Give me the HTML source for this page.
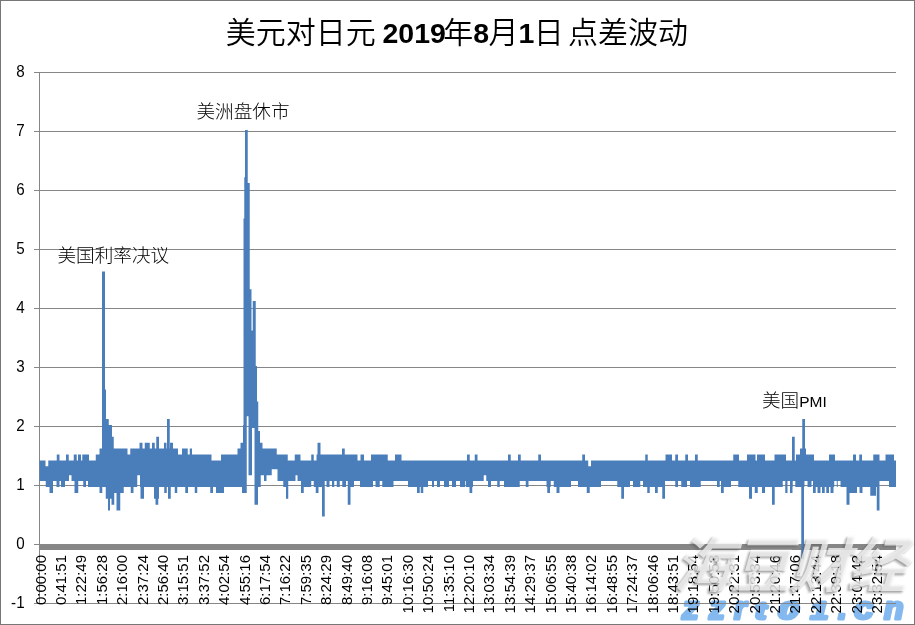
<!DOCTYPE html>
<html><head><meta charset="utf-8"><title>美元对日元 2019年8月1日点差波动</title>
<style>
html,body{margin:0;padding:0;background:#fff;}
body{width:915px;height:625px;overflow:hidden;position:relative;}
svg{position:absolute;left:0;top:0;display:block;will-change:transform;}
.lab{font-family:"Liberation Sans","Noto Sans CJK SC",sans-serif;font-size:15px;fill:#000;}
.cjk{font-family:"Liberation Sans","Noto Sans CJK SC",sans-serif;fill:#000;font-weight:350;}
.ylab{font-family:"Liberation Sans","Noto Sans CJK SC",sans-serif;font-size:16.5px;fill:#000;}
</style></head>
<body>
<svg width="915" height="625" viewBox="0 0 915 625">
<rect x="0" y="0" width="915" height="625" fill="#fff"/>
<g font-family="'Liberation Sans',sans-serif" font-weight="bold" font-style="italic" fill="#7DB6EE" stroke="#7DB6EE" stroke-width="3" stroke-linejoin="round" opacity="0.95">
<text transform="translate(682.1 618.5) scale(1.05 1)" font-size="32">z</text><text transform="translate(709.0 618.5) scale(1.00 1)" font-size="32">z</text><text transform="translate(734.0 618.5) scale(1.00 1)" font-size="32">r</text><text transform="translate(755.0 618.5) scale(1.40 1)" font-size="24">t</text><text transform="translate(778.0 618.5) scale(1.57 1)" font-size="23.5">0</text><text transform="translate(810.4 618.5) scale(1.36 1)" font-size="23.5">1</text><text transform="translate(838.0 618.5) scale(1.00 1)" font-size="32">.</text><text transform="translate(854.0 618.5) scale(1.10 1)" font-size="32">c</text><text transform="translate(884.0 618.5) scale(1.00 1)" font-size="32">n</text>
</g>
<g fill="#868686">
<rect x="34" y="72" width="862" height="1"/><rect x="34" y="131" width="862" height="1"/><rect x="34" y="190" width="862" height="1"/><rect x="34" y="249" width="862" height="1"/><rect x="34" y="308" width="862" height="1"/><rect x="34" y="367" width="862" height="1"/><rect x="34" y="426" width="862" height="1"/><rect x="34" y="485" width="862" height="1"/><rect x="34" y="544" width="862" height="1"/><rect x="34" y="603" width="862" height="1"/>
<rect x="39" y="72" width="1" height="532"/>
<rect x="39" y="544" width="857" height="6"/>
</g>
<path d="M39.5 460.4h6v20.7h-6zM45.5 466.3h0.25v14.8h-0.25zM45.75 466.3h2.5v20.7h-2.5zM48.25 460.4h1.25v26.6h-1.25zM49.5 460.4h3.5v32.5h-3.5zM53 460.4h3.5v20.7h-3.5zM56.5 460.4h0.25v26.6h-0.25zM56.75 454.5h2.75v32.5h-2.75zM59.5 460.4h1.5v20.7h-1.5zM61 460.4h4v26.6h-4zM65 460.4h1v20.7h-1zM66 454.5h2.75v26.6h-2.75zM68.75 460.4h0.25v20.7h-0.25zM69 460.4h2.5v14.8h-2.5zM71.5 460.4h2.25v20.7h-2.25zM73.75 454.5h0.75v26.6h-0.75zM74.5 454.5h2.25v38.4h-2.25zM76.75 460.4h1.25v32.5h-1.25zM78 454.5h0.25v38.4h-0.25zM78.25 454.5h2.75v26.6h-2.75zM81 460.4h1.25v20.7h-1.25zM82.25 454.5h1v26.6h-1zM83.25 454.5h2.75v32.5h-2.75zM86 454.5h2v26.6h-2zM88 454.5h1v32.5h-1zM89 460.4h6.75v26.6h-6.75zM95.75 454.5h3.75v32.5h-3.75zM99.5 448.6h2.5v44.3h-2.5zM102 271.6h0.25v221.3h-0.25zM102.25 271.6h2.75v215.4h-2.75zM105 389.6h0.75v97.4h-0.75zM105.75 389.6h0.25v109.2h-0.25zM106 419.1h2v79.7h-2zM108 419.1h0.75v91.5h-0.75zM108.75 425h1.25v85.6h-1.25zM110 425h1.5v73.8h-1.5zM111.5 425h0.5v79.7h-0.5zM112 436.8h1.75v67.9h-1.75zM113.75 448.6h0.5v56.1h-0.5zM114.25 448.6h2.25v44.3h-2.25zM116.5 448.6h3.75v62h-3.75zM120.25 448.6h3.5v44.3h-3.5zM123.75 448.6h3.75v38.4h-3.75zM127.5 454.5h2.75v32.5h-2.75zM130.25 448.6h0.5v38.4h-0.5zM130.75 448.6h2.75v44.3h-2.75zM133.5 448.6h3.75v38.4h-3.75zM137.25 448.6h2.25v26.6h-2.25zM139.5 442.7h0.5v32.5h-0.5zM140 442.7h0.5v44.3h-0.5zM140.5 442.7h2v56.1h-2zM142.5 448.6h1.5v50.2h-1.5zM144 448.6h0.75v38.4h-0.75zM144.75 442.7h5v44.3h-5zM149.75 448.6h2.25v38.4h-2.25zM152 442.7h2v44.3h-2zM154 442.7h0.75v56.1h-0.75zM154.75 448.6h0.75v50.2h-0.75zM155.5 448.6h0.75v56.1h-0.75zM156.25 436.8h2v67.9h-2zM158.25 436.8h0.75v62h-0.75zM159 448.6h5v38.4h-5zM164 442.7h0.25v44.3h-0.25zM164.25 442.7h2.25v50.2h-2.25zM166.5 448.6h0.25v44.3h-0.25zM166.75 448.6h0.25v38.4h-0.25zM167 419.1h1v67.9h-1zM168 419.1h1.75v79.7h-1.75zM169.75 448.6h0.25v50.2h-0.25zM170 442.7h0.75v56.1h-0.75zM170.75 442.7h2.25v44.3h-2.25zM173 448.6h1.75v38.4h-1.75zM174.75 448.6h2.5v44.3h-2.5zM177.25 448.6h0.75v38.4h-0.75zM178 454.5h4v32.5h-4zM182 448.6h3.25v38.4h-3.25zM185.25 448.6h2.5v44.3h-2.5zM187.75 454.5h0.25v38.4h-0.25zM188 454.5h1.75v32.5h-1.75zM189.75 448.6h2.25v38.4h-2.25zM192 454.5h2.75v32.5h-2.75zM194.75 454.5h2.5v38.4h-2.5zM197.25 454.5h13v32.5h-13zM210.25 454.5h1.25v38.4h-1.25zM211.5 460.4h1.5v32.5h-1.5zM213 460.4h3v26.6h-3zM216 460.4h5v32.5h-5zM221 454.5h3v38.4h-3zM224 454.5h13.5v32.5h-13.5zM237.5 448.6h3v38.4h-3zM240.5 442.7h1.5v44.3h-1.5zM242 442.7h1v50.2h-1zM243 425h0.5v67.9h-0.5zM243.5 218.5h0.75v274.4h-0.75zM244.25 177.2h0.75v315.7h-0.75zM245 130h1.75v362.9h-1.75zM246.75 130h1v286.2h-1zM247.75 183.1h0.75v233.1h-0.75zM248.5 183.1h1.25v292.1h-1.25zM249.75 289.3h1.75v185.9h-1.75zM251.5 330.6h0.5v144.6h-0.5zM252 330.6h0.75v97.4h-0.75zM252.75 301.1h1.75v126.9h-1.75zM254.5 301.1h1.25v203.6h-1.25zM255.75 366h1.25v138.7h-1.25zM257 401.4h1v103.3h-1zM258 401.4h0.25v85.6h-0.25zM258.25 430.9h1.75v56.1h-1.75zM260 442.7h0.75v44.3h-0.75zM260.75 442.7h1.75v32.5h-1.75zM262.5 448.6h1.5v26.6h-1.5zM264 448.6h2.5v32.5h-2.5zM266.5 448.6h5.25v26.6h-5.25zM271.75 448.6h5v20.7h-5zM276.75 454.5h0.75v14.8h-0.75zM277.5 454.5h5.75v26.6h-5.75zM283.25 454.5h2.75v32.5h-2.75zM286 454.5h1.75v44.3h-1.75zM287.75 460.4h0.5v38.4h-0.5zM288.25 460.4h6.5v20.7h-6.5zM294.75 454.5h0.75v26.6h-0.75zM295.5 454.5h2v20.7h-2zM297.5 454.5h3v26.6h-3zM300.5 460.4h0.5v20.7h-0.5zM301 460.4h2.75v32.5h-2.75zM303.75 460.4h7.5v26.6h-7.5zM311.25 454.5h2.5v26.6h-2.5zM313.75 460.4h2v26.6h-2zM315.75 460.4h0.75v32.5h-0.75zM316.5 454.5h1v38.4h-1zM317.5 442.7h1v50.2h-1zM318.5 442.7h2v44.3h-2zM320.5 454.5h1.5v32.5h-1.5zM322 454.5h2.75v62h-2.75zM324.75 454.5h1.75v26.6h-1.75zM326.5 454.5h3v32.5h-3zM329.5 454.5h2.5v26.6h-2.5zM332 454.5h2.25v32.5h-2.25zM334.25 454.5h2.5v26.6h-2.5zM336.75 454.5h3v32.5h-3zM339.75 454.5h2.25v26.6h-2.25zM342 448.6h0.25v32.5h-0.25zM342.25 448.6h2.5v38.4h-2.5zM344.75 454.5h1.25v32.5h-1.25zM346 454.5h1.75v26.6h-1.75zM347.75 454.5h2.75v50.2h-2.75zM350.5 454.5h3.5v32.5h-3.5zM354 454.5h3.5v26.6h-3.5zM357.5 460.4h2.5v20.7h-2.5zM360 460.4h0.5v26.6h-0.5zM360.5 454.5h3.5v32.5h-3.5zM364 460.4h7v26.6h-7zM371 454.5h2v32.5h-2zM373 454.5h2.5v26.6h-2.5zM375.5 454.5h4.25v32.5h-4.25zM379.75 454.5h2.5v26.6h-2.5zM382.25 454.5h5.5v32.5h-5.5zM387.75 460.4h5.75v26.6h-5.75zM393.5 460.4h1.5v20.7h-1.5zM395 454.5h6.5v26.6h-6.5zM401.5 460.4h6.5v20.7h-6.5zM408 460.4h9v26.6h-9zM417 460.4h2.75v32.5h-2.75zM419.75 460.4h1v26.6h-1zM420.75 460.4h2.5v32.5h-2.5zM423.25 460.4h4.75v26.6h-4.75zM428 460.4h4v20.7h-4zM432 460.4h2v26.6h-2zM434 460.4h3v20.7h-3zM437 460.4h3v26.6h-3zM440 460.4h4v20.7h-4zM444 460.4h5v26.6h-5zM449 460.4h3v20.7h-3zM452 460.4h4v26.6h-4zM456 460.4h4v20.7h-4zM460 460.4h5v26.6h-5zM465 460.4h0.75v20.7h-0.75zM465.75 460.4h1.25v26.6h-1.25zM467 454.5h2.5v32.5h-2.5zM469.5 454.5h0.25v38.4h-0.25zM469.75 460.4h2.5v32.5h-2.5zM472.25 460.4h0.75v26.6h-0.75zM473 460.4h1.75v20.7h-1.75zM474.75 454.5h2.75v26.6h-2.75zM477.5 460.4h6.25v20.7h-6.25zM483.75 460.4h2.5v14.8h-2.5zM486.25 460.4h1.75v20.7h-1.75zM488 460.4h3v26.6h-3zM491 460.4h6.25v20.7h-6.25zM497.25 460.4h2.5v26.6h-2.5zM499.75 460.4h4.25v20.7h-4.25zM504 460.4h4v26.6h-4zM508 454.5h2.75v32.5h-2.75zM510.75 460.4h7.25v26.6h-7.25zM518 454.5h1.75v32.5h-1.75zM519.75 454.5h1v26.6h-1zM520.75 460.4h5v20.7h-5zM525.75 460.4h2.75v26.6h-2.75zM528.5 460.4h9.75v20.7h-9.75zM538.25 454.5h2.75v26.6h-2.75zM541 460.4h5.5v20.7h-5.5zM546.5 460.4h0.75v26.6h-0.75zM547.25 460.4h2.75v32.5h-2.75zM550 460.4h0.75v26.6h-0.75zM550.75 460.4h3v20.7h-3zM553.75 460.4h2.75v26.6h-2.75zM556.5 460.4h3v32.5h-3zM559.5 460.4h11.5v26.6h-11.5zM571 460.4h7v20.7h-7zM578 460.4h4.25v26.6h-4.25zM582.25 454.5h2.75v32.5h-2.75zM585 460.4h1.75v26.6h-1.75zM586.75 460.4h1.5v32.5h-1.5zM588.25 466.3h1.5v26.6h-1.5zM589.75 466.3h1.25v20.7h-1.25zM591 460.4h10v26.6h-10zM601 460.4h16.25v20.7h-16.25zM617.25 460.4h4v26.6h-4zM621.25 460.4h2.75v38.4h-2.75zM624 460.4h6v26.6h-6zM630 460.4h3v20.7h-3zM633 460.4h7.25v26.6h-7.25zM640.25 460.4h2.75v20.7h-2.75zM643 460.4h2.25v26.6h-2.25zM645.25 454.5h2v32.5h-2zM647.25 454.5h0.5v38.4h-0.5zM647.75 460.4h2v32.5h-2zM649.75 460.4h5.25v26.6h-5.25zM655 460.4h2.75v32.5h-2.75zM657.75 460.4h4.5v26.6h-4.5zM662.25 460.4h2.75v38.4h-2.75zM665 460.4h0.5v20.7h-0.5zM665.5 454.5h6.5v26.6h-6.5zM672 460.4h3.25v20.7h-3.25zM675.25 454.5h2.75v32.5h-2.75zM678 460.4h3.25v20.7h-3.25zM681.25 460.4h4v26.6h-4zM685.25 454.5h1.75v32.5h-1.75zM687 454.5h1v26.6h-1zM688 460.4h2v20.7h-2zM690 460.4h5v26.6h-5zM695 454.5h2.75v32.5h-2.75zM697.75 460.4h3v26.6h-3zM700.75 460.4h16.25v20.7h-16.25zM717 460.4h2.75v26.6h-2.75zM719.75 460.4h1.25v20.7h-1.25zM721 460.4h2.75v32.5h-2.75zM723.75 460.4h7.25v26.6h-7.25zM731 460.4h2.25v20.7h-2.25zM733.25 454.5h5v26.6h-5zM738.25 454.5h0.75v32.5h-0.75zM739 460.4h8v26.6h-8zM747 454.5h2v32.5h-2zM749 454.5h3v44.3h-3zM752 454.5h2.75v32.5h-2.75zM754.75 454.5h0.75v38.4h-0.75zM755.5 460.4h1.5v32.5h-1.5zM757 454.5h0.75v38.4h-0.75zM757.75 454.5h4.25v32.5h-4.25zM762 454.5h3v38.4h-3zM765 460.4h7v26.6h-7zM772 460.4h2.5v44.3h-2.5zM774.5 454.5h0.25v50.2h-0.25zM774.75 454.5h8v32.5h-8zM782.75 454.5h2.5v26.6h-2.5zM785.25 454.5h0.75v38.4h-0.75zM786 460.4h1.5v32.5h-1.5zM787.5 460.4h2.5v20.7h-2.5zM790 460.4h2v32.5h-2zM792 436.8h0.5v56.1h-0.5zM792.5 436.8h0.25v50.2h-0.25zM792.75 436.8h2v44.3h-2zM794.75 460.4h0.5v20.7h-0.5zM795.25 460.4h0.75v26.6h-0.75zM796 454.5h4v32.5h-4zM800 448.6h1.25v38.4h-1.25zM801.25 448.6h1v110.38h-1zM802.25 419.1h1.75v139.88h-1.75zM804 419.1h0.5v67.9h-0.5zM804.5 419.1h0.5v62h-0.5zM805 448.6h1v32.5h-1zM806 454.5h1.5v26.6h-1.5zM807.5 454.5h4v32.5h-4zM811.5 454.5h1.5v26.6h-1.5zM813 454.5h1v38.4h-1zM814 460.4h1.75v32.5h-1.75zM815.75 460.4h1.75v26.6h-1.75zM817.5 460.4h3v32.5h-3zM820.5 460.4h1.5v26.6h-1.5zM822 460.4h2.75v32.5h-2.75zM824.75 460.4h1.5v26.6h-1.5zM826.25 460.4h2.75v32.5h-2.75zM829 454.5h1.5v32.5h-1.5zM830.5 454.5h3v38.4h-3zM833.5 454.5h0.75v32.5h-0.75zM834.25 454.5h0.75v26.6h-0.75zM835 460.4h1.75v20.7h-1.75zM836.75 460.4h1v26.6h-1zM837.75 460.4h2.75v20.7h-2.75zM840.5 460.4h6v26.6h-6zM846.5 460.4h3v44.3h-3zM849.5 460.4h3.5v32.5h-3.5zM853 454.5h3v38.4h-3zM856 460.4h1v32.5h-1zM857 460.4h2.25v26.6h-2.25zM859.25 454.5h0.25v32.5h-0.25zM859.5 454.5h2.5v38.4h-2.5zM862 460.4h0.5v32.5h-0.5zM862.5 460.4h7.75v26.6h-7.75zM870.25 460.4h3v35.45h-3zM873.25 454.5h2.75v41.35h-2.75zM876 454.5h0.75v32.5h-0.75zM876.75 454.5h2.75v56.1h-2.75zM879.5 460.4h6v20.7h-6zM885.5 454.5h3.5v26.6h-3.5zM889 454.5h5v32.5h-5zM894 460.4h2v26.6h-2z" fill="#4A7EBB"/>
<g class="ylab"><text transform="translate(24.6 76.9) scale(0.92 1)" text-anchor="end">8</text><text transform="translate(24.6 135.9) scale(0.92 1)" text-anchor="end">7</text><text transform="translate(24.6 194.9) scale(0.92 1)" text-anchor="end">6</text><text transform="translate(24.6 253.9) scale(0.92 1)" text-anchor="end">5</text><text transform="translate(24.6 312.9) scale(0.92 1)" text-anchor="end">4</text><text transform="translate(24.6 371.9) scale(0.92 1)" text-anchor="end">3</text><text transform="translate(24.6 430.9) scale(0.92 1)" text-anchor="end">2</text><text transform="translate(24.6 489.9) scale(0.92 1)" text-anchor="end">1</text><text transform="translate(24.6 548.9) scale(0.92 1)" text-anchor="end">0</text><text transform="translate(24.6 607.9) scale(0.92 1)" text-anchor="end">-1</text></g>
<g class="lab"><text transform="translate(45.5 555) rotate(-90)" text-anchor="end">0:00:00</text><text transform="translate(65.9 555) rotate(-90)" text-anchor="end">0:41:51</text><text transform="translate(86.3 555) rotate(-90)" text-anchor="end">1:22:49</text><text transform="translate(106.7 555) rotate(-90)" text-anchor="end">1:56:28</text><text transform="translate(127.1 555) rotate(-90)" text-anchor="end">2:16:00</text><text transform="translate(147.5 555) rotate(-90)" text-anchor="end">2:37:24</text><text transform="translate(167.9 555) rotate(-90)" text-anchor="end">2:56:40</text><text transform="translate(188.3 555) rotate(-90)" text-anchor="end">3:15:51</text><text transform="translate(208.7 555) rotate(-90)" text-anchor="end">3:37:52</text><text transform="translate(229.1 555) rotate(-90)" text-anchor="end">4:02:54</text><text transform="translate(249.5 555) rotate(-90)" text-anchor="end">4:55:16</text><text transform="translate(269.9 555) rotate(-90)" text-anchor="end">6:17:54</text><text transform="translate(290.3 555) rotate(-90)" text-anchor="end">7:16:22</text><text transform="translate(310.7 555) rotate(-90)" text-anchor="end">7:59:35</text><text transform="translate(331.1 555) rotate(-90)" text-anchor="end">8:24:29</text><text transform="translate(351.5 555) rotate(-90)" text-anchor="end">8:49:40</text><text transform="translate(371.9 555) rotate(-90)" text-anchor="end">9:16:08</text><text transform="translate(392.3 555) rotate(-90)" text-anchor="end">9:45:01</text><text transform="translate(412.7 555) rotate(-90)" text-anchor="end">10:16:30</text><text transform="translate(433.1 555) rotate(-90)" text-anchor="end">10:50:24</text><text transform="translate(453.5 555) rotate(-90)" text-anchor="end">11:35:10</text><text transform="translate(473.9 555) rotate(-90)" text-anchor="end">12:20:10</text><text transform="translate(494.3 555) rotate(-90)" text-anchor="end">13:03:34</text><text transform="translate(514.7 555) rotate(-90)" text-anchor="end">13:54:39</text><text transform="translate(535.1 555) rotate(-90)" text-anchor="end">14:29:37</text><text transform="translate(555.5 555) rotate(-90)" text-anchor="end">15:06:55</text><text transform="translate(575.9 555) rotate(-90)" text-anchor="end">15:40:38</text><text transform="translate(596.3 555) rotate(-90)" text-anchor="end">16:14:02</text><text transform="translate(616.7 555) rotate(-90)" text-anchor="end">16:48:55</text><text transform="translate(637.1 555) rotate(-90)" text-anchor="end">17:24:37</text><text transform="translate(657.5 555) rotate(-90)" text-anchor="end">18:06:46</text><text transform="translate(677.9 555) rotate(-90)" text-anchor="end">18:43:51</text><text transform="translate(698.3 555) rotate(-90)" text-anchor="end">19:18:54</text><text transform="translate(718.7 555) rotate(-90)" text-anchor="end">19:50:53</text><text transform="translate(739.1 555) rotate(-90)" text-anchor="end">20:22:31</text><text transform="translate(759.5 555) rotate(-90)" text-anchor="end">20:53:34</text><text transform="translate(779.9 555) rotate(-90)" text-anchor="end">21:20:46</text><text transform="translate(800.3 555) rotate(-90)" text-anchor="end">21:47:06</text><text transform="translate(820.7 555) rotate(-90)" text-anchor="end">22:13:44</text><text transform="translate(841.1 555) rotate(-90)" text-anchor="end">22:39:18</text><text transform="translate(861.5 555) rotate(-90)" text-anchor="end">23:04:42</text><text transform="translate(881.9 555) rotate(-90)" text-anchor="end">23:32:54</text></g>
<g class="cjk" font-size="30">
<text y="42.8"><tspan x="225.7">美元对日元</tspan><tspan x="382.5" font-weight="bold" font-size="28.5">2019</tspan><tspan x="443.3">年</tspan><tspan x="473.3" font-weight="bold" font-size="28.5">8</tspan><tspan x="488.5">月</tspan><tspan x="518.5" font-weight="bold" font-size="28.5">1</tspan><tspan x="533.7">日</tspan><tspan x="568">点差波动</tspan></text>
</g>
<g class="cjk" style="font-weight:300" font-size="18.6">
<text x="196.5" y="117.5">美洲盘休市</text>
<text x="57.5" y="262">美国利率决议</text>
<text x="762" y="407">美国<tspan font-size="15.5">PMI</tspan></text>
</g>
<defs><filter id="wb" x="-10%" y="-10%" width="120%" height="120%"><feGaussianBlur stdDeviation="0.9"/></filter></defs>
<g font-family="'Liberation Sans','Noto Sans CJK SC',sans-serif" font-weight="700" font-size="60">
<g transform="translate(673 587) skewX(-16)">
<text x="-1.5" y="1.5" fill="#555" opacity="0.55" filter="url(#wb)" letter-spacing="-2">海豆财经</text>
<text x="0" y="0" fill="#fff" opacity="0.72" letter-spacing="-2">海豆财经</text>
</g>
</g>

<rect x="0.5" y="0.5" width="914" height="624" fill="none" stroke="#777" stroke-width="1"/>
</svg>
</body></html>
